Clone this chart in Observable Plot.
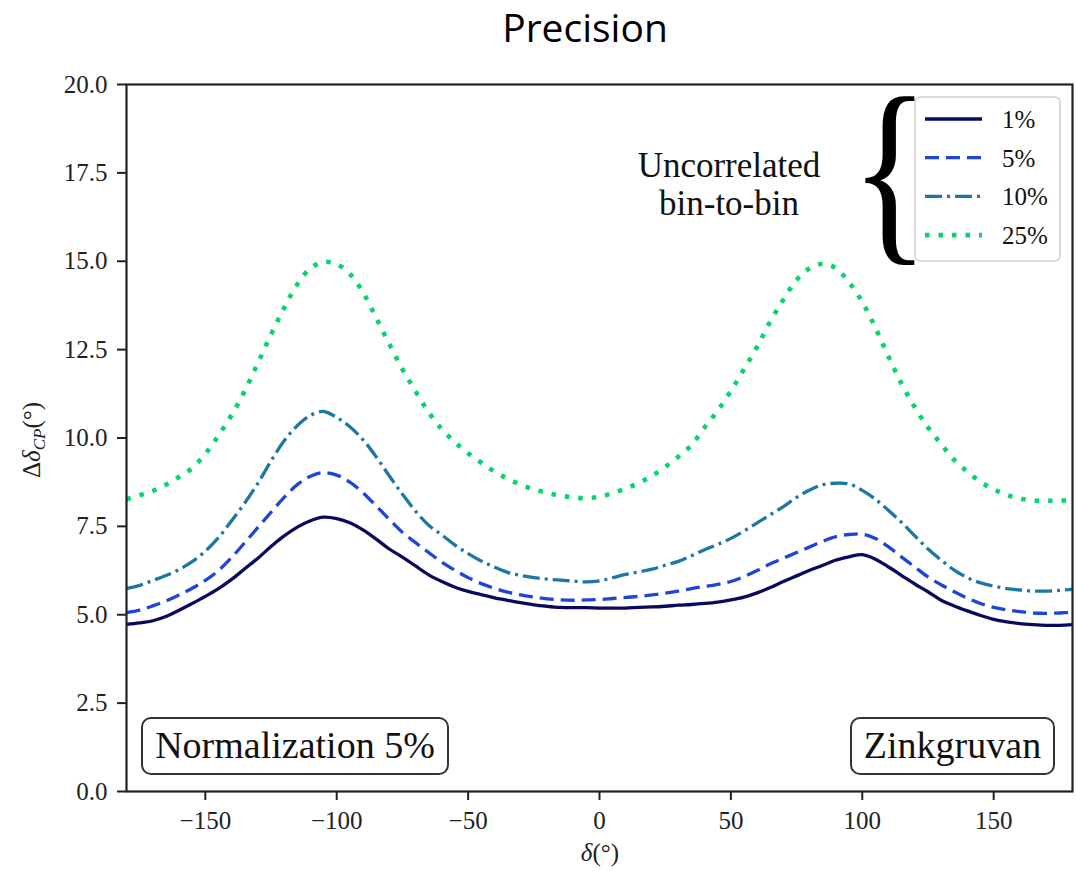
<!DOCTYPE html>
<html>
<head>
<meta charset="utf-8">
<script src="https://cdn.jsdelivr.net/npm/d3@7"></script>
<script src="https://cdn.jsdelivr.net/npm/@observablehq/plot@0.6"></script>
<style>
  body { margin: 0; background: #fff; }
  #wrap { position: relative; width: 1076px; height: 871px; overflow: hidden; }
  #title { position: absolute; top: 0px; left: 385px; width: 400px; text-align: center;
           font-family: "Open Sans", sans-serif; font-size: 39px; line-height: normal; color: #000; }
  #chart { position: absolute; top: 0; left: 0; }
</style>
</head>
<body>
<div id="wrap">
  <div id="chart"></div>
  <div id="title">Precision</div>
</div>
<script>
// ---- data ----
const delta = [-180,-175,-170,-165,-160,-155,-150,-145,-140,-135,-130,-125,-120,-115,-110,-105,-100,-95,-90,-85,-80,-75,-70,-65,-60,-55,-50,-45,-40,-35,-30,-25,-20,-15,-10,-5,0,5,10,15,20,25,30,35,40,45,50,55,60,65,70,75,80,85,90,95,100,105,110,115,120,125,130,135,140,145,150,155,160,165,170,175,180];

const err1 = [4.73,4.77,4.83,4.95,5.13,5.32,5.52,5.74,6.00,6.30,6.60,6.93,7.23,7.48,7.66,7.76,7.72,7.60,7.40,7.14,6.86,6.63,6.38,6.13,5.94,5.78,5.66,5.57,5.48,5.41,5.34,5.28,5.24,5.21,5.20,5.20,5.19,5.19,5.19,5.21,5.22,5.24,5.27,5.29,5.32,5.36,5.42,5.50,5.62,5.77,5.94,6.10,6.26,6.40,6.55,6.64,6.70,6.57,6.35,6.11,5.87,5.65,5.41,5.25,5.11,4.98,4.87,4.80,4.75,4.72,4.70,4.70,4.72];

const err5 = [5.06,5.13,5.25,5.39,5.56,5.75,5.97,6.25,6.62,7.04,7.47,7.90,8.32,8.68,8.92,9.02,8.95,8.75,8.45,8.08,7.70,7.33,7.04,6.76,6.49,6.26,6.05,5.88,5.75,5.64,5.56,5.50,5.45,5.42,5.41,5.42,5.43,5.46,5.49,5.52,5.56,5.61,5.67,5.74,5.80,5.86,5.94,6.08,6.25,6.44,6.60,6.76,6.92,7.08,7.21,7.27,7.28,7.16,6.92,6.63,6.35,6.07,5.85,5.65,5.47,5.32,5.21,5.14,5.09,5.05,5.04,5.05,5.07];

const err10 = [5.74,5.83,5.97,6.11,6.28,6.50,6.80,7.18,7.66,8.16,8.72,9.35,9.92,10.35,10.64,10.75,10.58,10.32,9.95,9.47,8.93,8.41,7.93,7.53,7.26,6.97,6.73,6.52,6.35,6.20,6.11,6.05,6.01,5.98,5.95,5.93,5.96,6.05,6.14,6.21,6.29,6.40,6.51,6.67,6.84,6.99,7.16,7.37,7.60,7.83,8.06,8.32,8.53,8.68,8.72,8.70,8.52,8.27,7.95,7.61,7.23,6.86,6.55,6.26,6.05,5.90,5.81,5.74,5.70,5.67,5.67,5.69,5.72];

const err25 = [8.27,8.38,8.50,8.68,8.90,9.15,9.55,10.07,10.65,11.33,12.12,12.93,13.68,14.35,14.80,14.98,14.92,14.64,14.12,13.40,12.66,11.95,11.32,10.73,10.25,9.88,9.57,9.30,9.05,8.85,8.68,8.55,8.45,8.37,8.32,8.30,8.34,8.44,8.57,8.73,8.93,9.18,9.47,9.80,10.30,10.78,11.33,11.95,12.58,13.30,13.92,14.47,14.80,14.93,14.80,14.40,13.85,13.12,12.30,11.53,10.87,10.30,9.83,9.38,9.05,8.76,8.55,8.39,8.29,8.23,8.22,8.23,8.24];

const seriesLabels = ["1%", "5%", "10%", "25%"];
const seriesValues = [err1, err5, err10, err25];
const seriesColors = ["#09095e", "#1f45d8", "#1b77a3", "#05d56c"];
const seriesDash   = [null, "14,7", "17,5,3,5", "4.5,9"];
const seriesWidth  = [3.3, 3.3, 3.3, 4.6];

const xTicks = [-150, -100, -50, 0, 50, 100, 150];
const yTicks = [0, 2.5, 5, 7.5, 10, 12.5, 15, 17.5, 20];

const boxLeftText = "Normalization 5%";
const boxRightText = "Zinkgruvan";
const noteLines = ["Uncorrelated", "bin-to-bin"];

// ---- build table ----
const rows = seriesLabels.flatMap((s, i) =>
  delta.map((d, j) => ({series: s, delta: d, value: seriesValues[i][j]})));

const serif = '"Liberation Serif", "Times New Roman", serif';
const fmtX = d => d < 0 ? "\u2212" + Math.abs(d) : String(d);

const plot = Plot.plot({
  width: 1076,
  height: 871,
  marginLeft: 126,
  marginRight: 4,
  marginTop: 84,
  marginBottom: 80,
  style: {fontFamily: serif, fontSize: "25px", color: "#222", background: "white", overflow: "visible"},
  x: {domain: [-180, 180], label: null},
  y: {domain: [0, 20], label: null},
  marks: [
    ...seriesLabels.map((s, i) => Plot.line(rows.filter(r => r.series === s), {
      x: "delta", y: "value",
      stroke: seriesColors[i],
      strokeWidth: seriesWidth[i],
      strokeDasharray: seriesDash[i] ?? undefined,
      strokeLinecap: "butt",
      curve: "catmull-rom"
    })),
    Plot.axisX({ticks: xTicks, tickFormat: fmtX, tickSize: 9, tickPadding: 11, strokeWidth: 2, stroke: "#222", fontSize: 25, label: null}),
    Plot.axisY({ticks: yTicks, tickFormat: d => d.toFixed(1), tickSize: 9, tickPadding: 10, strokeWidth: 2, stroke: "#222", fontSize: 25, label: null}),
    Plot.frame({stroke: "#222", strokeWidth: 2.2})
  ]
});

document.getElementById("chart").appendChild(plot);

// ---- annotations ----
const svg = d3.select(plot);

// axis labels
const ylab = svg.append("text")
  .attr("transform", `translate(40,440) rotate(-90)`)
  .attr("text-anchor", "middle")
  .style("font-family", serif).style("font-size", "25px").attr("fill", "#222");
ylab.append("tspan").text("\u0394");
ylab.append("tspan").attr("font-style", "italic").text("\u03b4");
ylab.append("tspan").attr("font-style", "italic").attr("font-size", "17px").attr("dy", "5").text("CP");
ylab.append("tspan").attr("dy", "-5").text("(\u00b0)");

const xlab = svg.append("text")
  .attr("x", 600).attr("y", 861)
  .attr("text-anchor", "middle")
  .style("font-family", serif).style("font-size", "25px").attr("fill", "#222");
xlab.append("tspan").attr("font-style", "italic").text("\u03b4");
xlab.append("tspan").text("(\u00b0)");

// rounded text boxes
function textBox(x, y, w, h, label) {
  svg.append("rect").attr("x", x).attr("y", y).attr("width", w).attr("height", h)
    .attr("rx", 9).attr("fill", "white").attr("stroke", "#333").attr("stroke-width", 2);
  svg.append("text").attr("x", x + w / 2).attr("y", y + h / 2 + 12)
    .attr("text-anchor", "middle")
    .style("font-family", serif).style("font-size", "38px").attr("fill", "#111")
    .text(label);
}
textBox(142, 718, 306, 56, boxLeftText);
textBox(851, 718, 203, 56, boxRightText);

// note text
noteLines.forEach((t, i) => {
  svg.append("text").attr("x", 729).attr("y", 177 + i * 38)
    .attr("text-anchor", "middle")
    .style("font-family", serif).style("font-size", "35px").attr("fill", "#111")
    .text(t);
});

// legend
const lg = svg.append("g");
lg.append("rect").attr("x", 915).attr("y", 97).attr("width", 145).attr("height", 164)
  .attr("rx", 5).attr("fill", "white").attr("fill-opacity", 0.85)
  .attr("stroke", "#cfcfcf").attr("stroke-width", 1.5);
seriesLabels.forEach((s, i) => {
  const yy = 119 + i * 38.7;
  lg.append("line").attr("x1", 925).attr("x2", 982).attr("y1", yy).attr("y2", yy)
    .attr("stroke", seriesColors[i]).attr("stroke-width", seriesWidth[i])
    .attr("stroke-dasharray", seriesDash[i]);
  lg.append("text").attr("x", 1002).attr("y", yy + 9)
    .attr("text-anchor", "start")
    .style("font-family", serif).style("font-size", "25px").attr("fill", "#111")
    .text(s);
});

// brace
svg.append("text").attr("x", 890).attr("y", 235)
  .attr("text-anchor", "middle")
  .style("font-family", serif).style("font-size", "193px").attr("fill", "#000")
  .style("transform-box", "fill-box").style("transform-origin", "center")
  .style("transform", "scale(0.85,1.05)")
  .text("{");
</script>
</body>
</html>
